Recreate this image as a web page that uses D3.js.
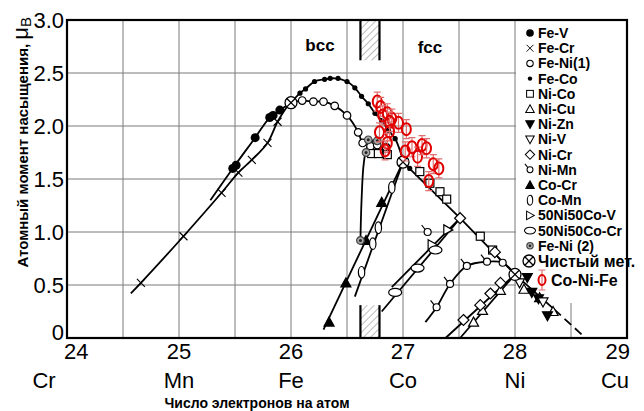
<!DOCTYPE html>
<html>
<head>
<meta charset="utf-8">
<script src="https://cdn.jsdelivr.net/npm/d3@7/dist/d3.min.js"></script>
<style>
  body { margin: 0; background: #fff; }
  svg { font-family: "Liberation Sans", Arial, sans-serif; }
</style>
</head>
<body>
<div id="chart"></div>
<script>
// axis values
var xTicks = [24, 25, 26, 27, 28, 29];
var elements = ["Cr", "Mn", "Fe", "Co", "Ni", "Cu"];
var yTicks = [0, 0.5, 1, 1.5, 2, 2.5, 3];
var gridX = [24.5, 25, 25.5, 26, 26.5, 27, 27.5, 28, 28.5];
var gridY = [0.5, 1, 1.5, 2, 2.5];

// drawn curves
var feCrLine = [[24.57,0.42],[24.66,0.52],[25.04,0.96],[25.38,1.37],[25.53,1.56],[25.65,1.68],[25.79,1.84],[25.88,2.04],[25.97,2.19]];
var feVLine = [[25.28,1.30],[25.48,1.60],[25.68,1.89],[25.81,2.08],[25.90,2.15],[26.0,2.22]];
var feCoLine = [[26.0,2.22],[26.08,2.31],[26.13,2.35],[26.21,2.42],[26.30,2.44],[26.39,2.45],[26.50,2.42],[26.57,2.36],[26.63,2.28],[26.69,2.21],[26.75,2.12],[26.81,2.05],[26.87,1.96],[26.93,1.88],[27.0,1.68]];
var mainLine = [[27.0,1.66],[27.51,1.13],[28.0,0.6],[28.35,0.27]];
var mainDash = [[28.35,0.27],[28.63,0]];
var feNi1Line = [[26.0,2.22],[26.10,2.24],[26.20,2.23],[26.29,2.23],[26.39,2.19],[26.50,2.10],[26.60,1.94],[26.63,1.85]];
var feNi2Line = [[26.62,0.92],[26.63,1.30],[26.65,1.65],[26.68,1.80],[26.74,1.87]];
var coCrLine = [[26.29,0.08],[27.0,1.66]];
var coMnLine = [[26.57,0.39],[27.0,1.66]];
var cr5050Line = [[26.81,0.25],[27.51,1.13]];
var v5050Line = [[26.90,0.48],[27.51,1.13]];
var niMnLine = [[27.20,0.15],[27.30,0.29],[27.42,0.51],[27.57,0.68],[27.75,0.72],[27.89,0.71],[28.0,0.6]];
var niCrLine = [[27.38,0],[28.0,0.6]];
var niCuLine = [[27.51,0],[28.0,0.6]];

// measured points
var feV = [[25.48,1.60],[25.51,1.63],[25.68,1.89],[25.81,2.08],[25.84,2.10],[25.90,2.15]];
var feCr = [[24.66,0.52],[25.04,0.96],[25.38,1.37],[25.53,1.56],[25.65,1.68],[25.79,1.84],[25.88,2.04]];
var feNi1 = [[26.10,2.24],[26.20,2.23],[26.29,2.23],[26.39,2.19],[26.50,2.10],[26.60,1.94],[26.64,1.84],[26.71,1.81],[26.77,1.82],[26.85,1.80]];
var feCo = [[26.08,2.31],[26.13,2.35],[26.21,2.42],[26.30,2.44],[26.35,2.45],[26.42,2.45],[26.50,2.42],[26.57,2.36],[26.63,2.28],[26.69,2.21],[26.75,2.12],[26.81,2.05],[26.87,1.96],[26.93,1.88],[27.06,1.60]];
var niCo = [[26.72,1.74],[26.78,1.74],[26.86,1.73],[27.15,1.57],[27.24,1.46],[27.33,1.38],[27.39,1.31],[27.69,0.96],[27.80,0.83]];
var niCu = [[27.63,0.15],[27.71,0.26],[27.87,0.45],[28.08,0.46],[28.22,0.38],[28.34,0.25]];
var niZn = [[28.11,0.57],[28.15,0.43],[28.21,0.37],[28.29,0.21]];
var niV = [[28.04,0.52],[28.25,0.34]];
var niCr = [[27.51,1.13],[27.82,0.81],[27.54,0.17],[27.69,0.31],[27.78,0.42],[27.87,0.52]];
var niMn = [[27.22,1.00],[27.30,0.29],[27.42,0.51],[27.57,0.68],[27.75,0.72],[27.89,0.71]];
var coCr = [[26.34,0.15],[26.49,0.52],[26.67,0.92],[26.81,1.28]];
var coMn = [[26.63,0.62],[26.73,0.89],[26.78,1.04],[26.90,1.42]];
var v5050 = [[27.26,0.88],[27.40,1.02]];
var cr5050 = [[26.93,0.43],[27.13,0.66],[27.29,0.83]];
var feNi2 = [[26.62,0.92],[26.67,1.75],[26.69,1.87],[26.77,1.86]];
var pureMetal = [[26.0,2.22],[27.0,1.66],[28.0,0.6]];

// Co-Ni-Fe with error bars
var cnfX = [26.77,26.80,26.82,26.86,26.90,26.88,26.96,27.03,26.79,26.88,26.86,26.84,27.02,27.08,27.13,27.17,27.21,27.27,27.32,27.23];
var cnfY = [2.23,2.18,2.10,2.12,2.07,2.04,2.03,1.97,1.94,1.95,1.84,1.77,1.76,1.80,1.71,1.82,1.79,1.64,1.60,1.48];
var cnfErr = 0.09;

var hatchX = [26.62, 26.79];

var W = 644, H = 411;
var padL = 67, padT = 20, padR = 627, padB = 338;

var x = d3.scaleLinear().domain([24, 29]).range([padL, padR]);
var y = d3.scaleLinear().domain([0, 3]).range([padB, padT]);

var svg = d3.select("#chart").append("svg").attr("width", W).attr("height", H);

// grid
svg.append("g").selectAll("line").data(gridX).enter().append("line")
    .attr("x1", function(d) { return x(d); }).attr("x2", function(d) { return x(d); })
    .attr("y1", padT).attr("y2", padB)
    .attr("stroke", "#7a7a7a").attr("stroke-width", 1);
svg.append("g").selectAll("line").data(gridY).enter().append("line")
    .attr("x1", padL).attr("x2", padR)
    .attr("y1", function(d) { return y(d); }).attr("y2", function(d) { return y(d); })
    .attr("stroke", "#7a7a7a").attr("stroke-width", 1);

// legend background hides grid
svg.append("rect").attr("x", x(28) + 1).attr("y", padT).attr("width", padR - x(28) - 1).attr("height", 283)
    .attr("fill", "#fff");

// hatched bars
var defs = svg.append("defs");
var pat = defs.append("pattern").attr("id", "hatch").attr("patternUnits", "userSpaceOnUse")
    .attr("width", 5).attr("height", 5).attr("patternTransform", "rotate(45)");
pat.append("line").attr("x1", 0).attr("y1", 0).attr("x2", 0).attr("y2", 5)
    .attr("stroke", "#555").attr("stroke-width", 0.8);

function hatchBar(y0, y1) {
    svg.append("rect").attr("x", x(hatchX[0])).attr("y", y(y1))
        .attr("width", x(hatchX[1]) - x(hatchX[0])).attr("height", y(y0) - y(y1))
        .attr("fill", "url(#hatch)");
    hatchX.forEach(function(v) {
        svg.append("line").attr("x1", x(v)).attr("x2", x(v)).attr("y1", y(y0)).attr("y2", y(y1))
            .attr("stroke", "#000").attr("stroke-width", 2.2);
    });
}
hatchBar(2.62, 3);
hatchBar(0, 0.31);

svg.append("text").attr("x", 320).attr("y", 51).attr("text-anchor", "middle")
    .attr("font-size", "17px").attr("font-weight", "bold").text("bcc");
svg.append("text").attr("x", 430).attr("y", 53).attr("text-anchor", "middle")
    .attr("font-size", "17px").attr("font-weight", "bold").text("fcc");

// curves
var line = d3.line().x(function(d) { return x(d[0]); }).y(function(d) { return y(d[1]); });
var curve = d3.line().curve(d3.curveCatmullRom).x(function(d) { return x(d[0]); }).y(function(d) { return y(d[1]); });

[feCrLine, feVLine, feCoLine, feNi1Line, feNi2Line, niMnLine].forEach(function(d) {
    svg.append("path").attr("d", curve(d)).attr("fill", "none").attr("stroke", "#000").attr("stroke-width", 1.8);
});
[mainLine, coCrLine, coMnLine, cr5050Line, v5050Line, niCrLine, niCuLine].forEach(function(d) {
    svg.append("path").attr("d", line(d)).attr("fill", "none").attr("stroke", "#000").attr("stroke-width", 1.8);
});
svg.append("path").attr("d", line(mainDash)).attr("fill", "none").attr("stroke", "#000")
    .attr("stroke-width", 1.8).attr("stroke-dasharray", "9,5");

// markers
function addMarker(g, type, cx, cy, k) {
    k = k || 1;
    var m = g.append("g").attr("transform", "translate(" + cx + "," + cy + ") scale(" + k + ")");
    var sw = 1.2;
    if (type == "bigdot") {
        m.append("circle").attr("r", 4.5).attr("fill", "#000");
    } else if (type == "cross") {
        m.append("path").attr("d", "M-4,-4L4,4M-4,4L4,-4").attr("stroke", "#000").attr("stroke-width", 1.1);
    } else if (type == "ocircle") {
        m.append("circle").attr("r", 3.8).attr("fill", "#fff").attr("stroke", "#000").attr("stroke-width", sw);
    } else if (type == "dot") {
        m.append("circle").attr("r", 2.6).attr("fill", "#000");
    } else if (type == "square") {
        m.append("rect").attr("x", -4).attr("y", -4).attr("width", 8).attr("height", 8)
            .attr("fill", "#fff").attr("stroke", "#000").attr("stroke-width", sw);
    } else if (type == "tri" || type == "trifill") {
        m.append("path").attr("d", "M0,-5L5,4L-5,4Z").attr("fill", type == "tri" ? "#fff" : "#000")
            .attr("stroke", "#000").attr("stroke-width", sw);
    } else if (type == "tridown" || type == "tridownfill") {
        m.append("path").attr("d", "M0,5L5,-4L-5,-4Z").attr("fill", type == "tridown" ? "#fff" : "#000")
            .attr("stroke", "#000").attr("stroke-width", sw);
    } else if (type == "diamond") {
        m.append("path").attr("d", "M0,-5.5L5.5,0L0,5.5L-5.5,0Z").attr("fill", "#fff")
            .attr("stroke", "#000").attr("stroke-width", sw);
    } else if (type == "nimn") {
        m.append("path").attr("d", "M-2.5,-2.5L-6,-7").attr("stroke", "#000").attr("stroke-width", sw);
        m.append("circle").attr("r", 3.5).attr("fill", "#fff").attr("stroke", "#000").attr("stroke-width", sw);
    } else if (type == "vellipse") {
        m.append("ellipse").attr("rx", 3.2).attr("ry", 5.8).attr("fill", "#fff")
            .attr("stroke", "#000").attr("stroke-width", sw);
    } else if (type == "tright") {
        m.append("path").attr("d", "M-4,-5L5,0L-4,5Z").attr("fill", "#fff")
            .attr("stroke", "#000").attr("stroke-width", sw);
    } else if (type == "hellipse") {
        m.append("ellipse").attr("rx", 6.5).attr("ry", 4).attr("fill", "#fff")
            .attr("stroke", "#000").attr("stroke-width", sw);
    } else if (type == "feni2") {
        m.append("circle").attr("r", 3.8).attr("fill", "#aaa").attr("stroke", "#444").attr("stroke-width", sw);
        m.append("circle").attr("r", 1.5).attr("fill", "#222");
    } else if (type == "pure") {
        m.append("circle").attr("r", 6).attr("fill", "#fff").attr("stroke", "#000").attr("stroke-width", 1.3);
        m.append("path").attr("d", "M-4.2,-4.2L4.2,4.2M-4.2,4.2L4.2,-4.2").attr("stroke", "#000").attr("stroke-width", 1.3);
    }
    return m;
}

var series = [
    { name: "Fe-V", type: "bigdot", data: feV },
    { name: "Fe-Cr", type: "cross", data: feCr },
    { name: "Fe-Ni(1)", type: "ocircle", data: feNi1 },
    { name: "Fe-Co", type: "dot", data: feCo },
    { name: "Ni-Co", type: "square", data: niCo },
    { name: "Ni-Cu", type: "tri", data: niCu },
    { name: "Ni-Zn", type: "tridownfill", data: niZn },
    { name: "Ni-V", type: "tridown", data: niV },
    { name: "Ni-Cr", type: "diamond", data: niCr },
    { name: "Ni-Mn", type: "nimn", data: niMn },
    { name: "Co-Cr", type: "trifill", data: coCr },
    { name: "Co-Mn", type: "vellipse", data: coMn },
    { name: "50Ni50Co-V", type: "tright", data: v5050 },
    { name: "50Ni50Co-Cr", type: "hellipse", data: cr5050 },
    { name: "Fe-Ni (2)", type: "feni2", data: feNi2 },
    { name: "Чистый мет.", type: "pure", data: pureMetal }
];

var pts = svg.append("g");
series.forEach(function(s) {
    s.data.forEach(function(d) {
        addMarker(pts, s.type, x(d[0]), y(d[1]));
    });
});

// Co-Ni-Fe
var red = svg.append("g");
function redPoint(g, cx, cy, ey, rx, ry) {
    g.append("path")
        .attr("d", "M" + cx + "," + (cy - ey) + "V" + (cy + ey) +
            "M" + (cx - 3.5) + "," + (cy - ey) + "H" + (cx + 3.5) +
            "M" + (cx - 3.5) + "," + (cy + ey) + "H" + (cx + 3.5))
        .attr("stroke", "#e07070").attr("stroke-width", 1.2).attr("fill", "none");
    g.append("ellipse").attr("cx", cx).attr("cy", cy).attr("rx", rx).attr("ry", ry)
        .attr("fill", "none").attr("stroke", "#e00000").attr("stroke-width", 2);
}
cnfX.forEach(function(v, i) {
    redPoint(red, x(v), y(cnfY[i]), y(0) - y(cnfErr), 4.5, 6);
});

// frame
svg.append("rect").attr("x", padL).attr("y", padT).attr("width", padR - padL).attr("height", padB - padT)
    .attr("fill", "none").attr("stroke", "#000").attr("stroke-width", 2.2);

// axis labels
var xa = svg.append("g").attr("font-size", "22px");
xa.selectAll("text.tick").data(xTicks).enter().append("text")
    .attr("x", function(d, i) { return i == 0 ? x(d) - 3 : (i == xTicks.length - 1 ? x(d) + 3 : x(d)); })
    .attr("y", 359)
    .attr("text-anchor", function(d, i) { return i == 0 ? "start" : (i == xTicks.length - 1 ? "end" : "middle"); })
    .text(function(d) { return d; });
xa.selectAll("text.el").data(elements).enter().append("text")
    .attr("x", function(d, i) { return i == 0 ? x(xTicks[i]) - 23 : (i == 5 ? x(xTicks[i]) - 12 : x(xTicks[i])); })
    .attr("y", 388)
    .attr("text-anchor", "middle")
    .text(function(d) { return d; });

var ya = svg.append("g").attr("font-size", "22px");
ya.selectAll("text").data(yTicks).enter().append("text")
    .attr("x", 64)
    .attr("y", function(d) { return d == 0 ? y(d) + 2 : y(d) + 8; })
    .attr("text-anchor", "end")
    .text(function(d) { return d == 0 ? "0" : d3.format(".1f")(d); });

svg.append("text").attr("x", 257).attr("y", 408).attr("text-anchor", "middle")
    .attr("font-size", "14px").attr("font-weight", "bold").text("Число электронов на атом");

var yt = svg.append("text").attr("transform", "translate(28,17) rotate(-90)")
    .attr("text-anchor", "end");
yt.append("tspan").attr("font-size", "15px").attr("font-weight", "bold").text("Атомный момент насыщения, ");
yt.append("tspan").attr("font-size", "22px").text("μ");
yt.append("tspan").attr("font-size", "15px").attr("dy", 3).text("B");

// legend
var lg = svg.append("g");
series.forEach(function(s, i) {
    var ly = 33 + i * 15.2;
    var big = s.type == "pure";
    addMarker(lg, s.type, big ? 529 : 530, ly, big ? 1 : 0.85);
    lg.append("text").attr("x", 538).attr("y", ly + (big ? 6 : 5))
        .attr("font-size", big ? "16px" : "14px").attr("font-weight", "bold").text(s.name);
});
redPoint(lg, 542, 280, 10, 3.5, 5);
lg.append("text").attr("x", 551).attr("y", 286).attr("font-size", "16px").attr("font-weight", "bold").text("Co-Ni-Fe");
</script>
</body>
</html>
